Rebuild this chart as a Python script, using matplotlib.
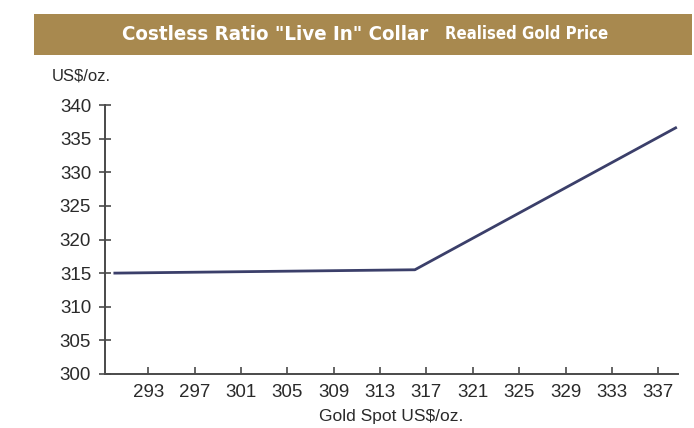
import matplotlib
matplotlib.use("Agg")
import matplotlib.pyplot as plt
from matplotlib.patches import Rectangle

# Data
spot = [290, 316, 338.6]
realised = [315.0, 315.5, 336.7]
x_ticks = [293, 297, 301, 305, 309, 313, 317, 321, 325, 329, 333, 337]
y_ticks = [300, 305, 310, 315, 320, 325, 330, 335, 340]

title_main = 'Costless Ratio "Live In" Collar'
title_sub = 'Realised Gold Price'

W, H = 694, 428
fig = plt.figure(figsize=(W / 100, H / 100), dpi=100)
fig.patch.set_facecolor("white")

def fx(px):
    return px / W

def fy(py):
    return 1 - py / H

# title band
band = Rectangle((fx(34), fy(55)), fx(692) - fx(34), fy(14) - fy(55),
                 transform=fig.transFigure, facecolor="#a8894f", edgecolor="none")
fig.patches.append(band)
fig.text(fx(122), fy(35), title_main, color="white", fontsize=14.7, fontweight="bold",
         family="DejaVu Sans", fontstretch="condensed", ha="left", va="center")
fig.text(fx(445), fy(34), title_sub, color="white", fontsize=12, fontweight="bold",
         family="DejaVu Sans", fontstretch="condensed", ha="left", va="center")

ax = fig.add_axes([fx(105), fy(374), fx(678) - fx(105), fy(105) - fy(374)])
ax.set_facecolor("none")
ax.plot(spot, realised, color="#3b3f6a", lw=2.0, solid_capstyle="butt")

ax.set_xlim(289.27, 338.7)
ax.set_ylim(300, 340)
ax.set_xticks(x_ticks)
ax.set_yticks(y_ticks)
for s in ["top", "right"]:
    ax.spines[s].set_visible(False)
for s in ["left", "bottom"]:
    ax.spines[s].set_color("#4a4a4a")
    ax.spines[s].set_linewidth(1.4)

lab_font = ["Liberation Sans", "DejaVu Sans"]
ax.tick_params(axis="y", direction="inout", length=8, width=1.2, color="#4a4a4a",
               labelsize=13.5, pad=6, labelcolor="#2a2a2a")
ax.tick_params(axis="x", direction="in", length=5, width=1.2, color="#4a4a4a",
               labelsize=13.5, pad=7, labelcolor="#2a2a2a")
for lab in ax.get_xticklabels() + ax.get_yticklabels():
    lab.set_family(lab_font)

ax.set_xlabel("Gold Spot US$/oz.", fontsize=12.5, family=lab_font, color="#2a2a2a", labelpad=6)
fig.text(fx(52), fy(76), "US$/oz.", fontsize=12, family=lab_font, color="#2a2a2a",
         ha="left", va="center")

fig.savefig("out.png", dpi=100, facecolor="white")
